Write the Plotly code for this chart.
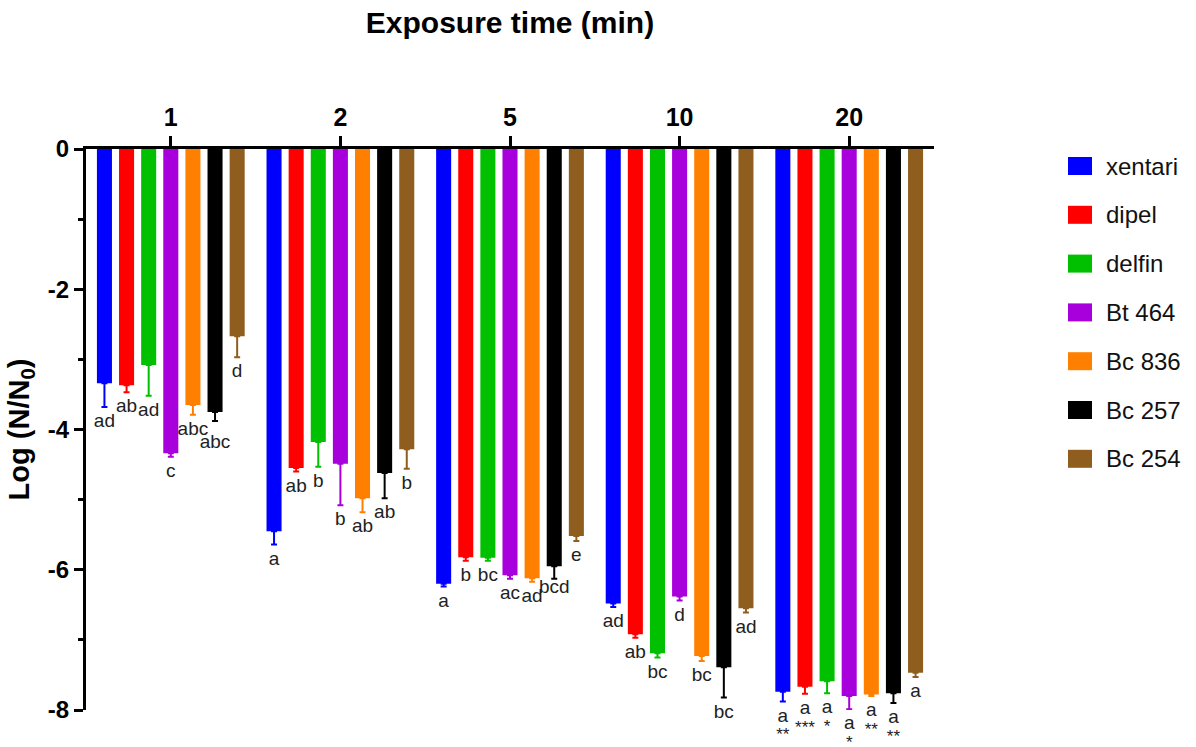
import plotly.graph_objects as go

# ---------------- data ----------------
times = ["1", "2", "5", "10", "20"]
series = ["xentari", "dipel", "delfin", "Bt 464", "Bc 836", "Bc 257", "Bc 254"]

xentari = [-3.34, -5.45, -6.20, -6.48, -7.74]
dipel = [-3.37, -4.55, -5.82, -6.92, -7.67]
delfin = [-3.08, -4.18, -5.83, -7.19, -7.59]
bt464 = [-4.34, -4.49, -6.08, -6.38, -7.80]
bc836 = [-3.65, -4.98, -6.12, -7.23, -7.78]
bc257 = [-3.75, -4.62, -5.95, -7.39, -7.76]
bc254 = [-2.67, -4.28, -5.52, -6.55, -7.47]

xentari_err = [0.34, 0.19, 0.04, 0.05, 0.14]
dipel_err = [0.10, 0.05, 0.05, 0.05, 0.10]
delfin_err = [0.44, 0.35, 0.04, 0.06, 0.17]
bt464_err = [0.05, 0.59, 0.05, 0.06, 0.19]
bc836_err = [0.14, 0.20, 0.05, 0.07, 0.02]
bc257_err = [0.13, 0.36, 0.18, 0.43, 0.14]
bc254_err = [0.30, 0.28, 0.07, 0.06, 0.06]

xentari_lbl = ["ad", "a", "a", "ad", "a"]
dipel_lbl = ["ab", "ab", "b", "ab", "a"]
delfin_lbl = ["ad", "b", "bc", "bc", "a"]
bt464_lbl = ["c", "b", "ac", "d", "a"]
bc836_lbl = ["abc", "ab", "ad", "bc", "a"]
bc257_lbl = ["abc", "ab", "bcd", "bc", "a"]
bc254_lbl = ["d", "b", "e", "ad", "a"]

xentari_sig = [None, None, None, None, "**"]
dipel_sig = [None, None, None, None, "***"]
delfin_sig = [None, None, None, None, "*"]
bt464_sig = [None, None, None, None, "*"]
bc836_sig = [None, None, None, None, "**"]
bc257_sig = [None, None, None, None, "**"]

y_tick_vals = [0, -2, -4, -6, -8]
y_tick_text = ["0", "-2", "-4", "-6", "-8"]

# ---------------- styles ----------------
colors = ["#0000FF", "#FF0000", "#00C000", "#A800DC", "#FF8000", "#000000", "#8F5E1E"]
FONT = "Liberation Sans, Arial, sans-serif"
LBL_SIZE = 19
SIG_SIZE = 17
LBL_OFFSET = 15          # px from error-bar end to letter centre
LBL_OFFSET_OVERRIDE = {("Bc 257", "1"): 22, ("Bc 257", "5"): 9}
SIG_OFFSET = 29          # px from error-bar end to star centre

values = [xentari, dipel, delfin, bt464, bc836, bc257, bc254]
errors = [xentari_err, dipel_err, delfin_err, bt464_err, bc836_err, bc257_err, bc254_err]
labels = [xentari_lbl, dipel_lbl, delfin_lbl, bt464_lbl, bc836_lbl, bc257_lbl, bc254_lbl]
sigs = [xentari_sig, dipel_sig, delfin_sig, bt464_sig, bc836_sig, bc257_sig, None]

W, H = 1196, 747
L, R, T, B = 86, 934, 149, 710


def marker_size_for(offset_px, center_em, fs):
    # plotly places first baseline at 0.75*fs + (mrc/0.8 + 1) below the point
    r_eff = offset_px + center_em * fs - 0.75 * fs
    if r_eff <= 1:
        return 0
    return 2 * 0.8 * (r_eff - 1)


fig = go.Figure()
for name, col, vals, errs in zip(series, colors, values, errors):
    fig.add_trace(go.Bar(
        x=times, y=vals, name=name, offsetgroup=name,
        marker=dict(color=col, line=dict(width=0)),
        error_y=dict(type="data", symmetric=False,
                     array=[0] * len(errs), arrayminus=errs,
                     color=col, thickness=2, width=3),
        showlegend=False,
    ))

for name, vals, errs, lbls, sg in zip(series, values, errors, labels, sigs):
    ends = [v - e for v, e in zip(vals, errs)]
    sizes = [marker_size_for(LBL_OFFSET_OVERRIDE.get((name, t), LBL_OFFSET), 0.27, LBL_SIZE)
             for t in times]
    fig.add_trace(go.Scatter(
        x=times, y=ends, offsetgroup=name,
        mode="markers+text", text=lbls, textposition="bottom center",
        marker=dict(size=sizes, color="rgba(0,0,0,0)", line=dict(width=0)),
        textfont=dict(family=FONT, size=LBL_SIZE, color="#222222"),
        cliponaxis=False, showlegend=False, hoverinfo="skip",
    ))
    if sg is not None:
        fig.add_trace(go.Scatter(
            x=times, y=ends, offsetgroup=name,
            mode="markers+text", text=sg, textposition="bottom center",
            marker=dict(size=marker_size_for(SIG_OFFSET, 0.57, SIG_SIZE),
                        color="rgba(0,0,0,0)", line=dict(width=0)),
            textfont=dict(family=FONT, size=SIG_SIZE, color="#222222"),
            cliponaxis=False, showlegend=False, hoverinfo="skip",
        ))


# manual legend (pixel positions)
def px_x(p):
    return (p - L) / (R - L)


def px_y(p):
    return (B - p) / (B - T)


for i, (name, col) in enumerate(zip(series, colors)):
    cy = 166 + i * 48.8
    fig.add_shape(type="rect", xref="paper", yref="paper",
                  x0=px_x(1068), x1=px_x(1092), y0=px_y(cy - 9), y1=px_y(cy + 9),
                  fillcolor=col, line=dict(width=0))
    fig.add_annotation(xref="paper", yref="paper", x=px_x(1104), y=px_y(cy),
                       xanchor="left", yanchor="middle", showarrow=False,
                       text=name, font=dict(family=FONT, size=24, color="#111111"))

fig.update_layout(
    width=W, height=H,
    margin=dict(l=L, r=W - R, t=T, b=H - B),
    paper_bgcolor="white", plot_bgcolor="white",
    barmode="group", bargap=0.087, bargroupgap=0.32,
    scattermode="group", scattergap=0.087,
    title=dict(text="Exposure time (min)", x=(L + R) / 2 / W, xanchor="center",
               y=1 - 22 / H, yanchor="middle", xref="container", yref="container",
               font=dict(family=FONT, size=30, color="black", weight="bold")),
    xaxis=dict(side="top", type="category", range=[-0.5, 4.5],
               showline=True, linecolor="black", linewidth=3,
               ticks="outside", ticklen=10, tickwidth=3, tickcolor="black",
               tickfont=dict(family=FONT, size=25, color="black", weight="bold"),
               showgrid=False, zeroline=False),
    yaxis=dict(range=[-8, 0], tickvals=y_tick_vals, ticktext=y_tick_text,
               showline=True, linecolor="black", linewidth=3,
               ticks="outside", ticklen=9, tickwidth=3, tickcolor="black",
               tickfont=dict(family=FONT, size=24, color="black", weight="bold"),
               minor=dict(dtick=1, ticks="outside", ticklen=5, tickwidth=3, tickcolor="black"),
               showgrid=False, zeroline=False,
               title=dict(text="Log (N/N<sub>0</sub>)", standoff=10,
                          font=dict(family=FONT, size=29, color="black", weight="bold"))),
)

fig.write_html("out.html")
